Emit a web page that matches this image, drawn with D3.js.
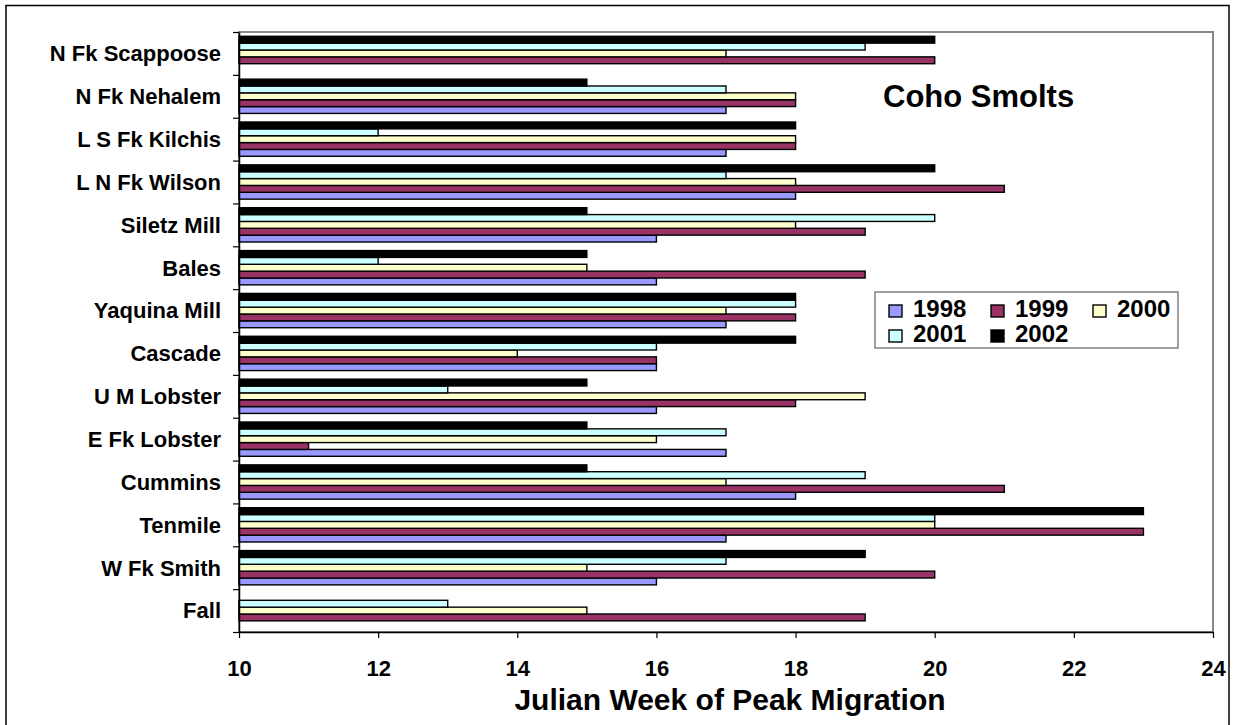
<!DOCTYPE html>
<html>
<head>
<meta charset="utf-8">
<script src="https://cdn.jsdelivr.net/npm/d3@7"></script>
<style>
  body { margin: 0; background: #fff; }
  svg { display: block; font-family: "Liberation Sans", Arial, sans-serif; }
</style>
</head>
<body>
<div id="chart"></div>
<script>
// streams, top to bottom
var streams = ["N Fk Scappoose", "N Fk Nehalem", "L S Fk Kilchis", "L N Fk Wilson", "Siletz Mill",
  "Bales", "Yaquina Mill", "Cascade", "U M Lobster", "E Fk Lobster", "Cummins", "Tenmile",
  "W Fk Smith", "Fall"];
var years = ["1998", "1999", "2000", "2001", "2002"];
var yearColors = ["#9999FF", "#993366", "#FFFFCC", "#CCFFFF", "#000000"];

// julian week of peak migration per year, same order as streams (null = no data)
var wk1998 = [null, 17, 17, 18, 16, 16, 17, 16, 16, 17, 18, 17, 16, null];
var wk1999 = [20, 18, 18, 21, 19, 19, 18, 16, 18, 11, 21, 23, 20, 19];
var wk2000 = [17, 18, 18, 18, 18, 15, 17, 14, 19, 16, 17, 20, 15, 15];
var wk2001 = [19, 17, 12, 17, 20, 12, 18, 16, 13, 17, 19, 20, 17, 13];
var wk2002 = [20, 15, 18, 20, 15, 15, 18, 18, 15, 15, 15, 23, 19, null];

var xTicks = [10, 12, 14, 16, 18, 20, 22, 24];

var W = 1236, H = 725;
var margin = {top: 32, right: 23, bottom: 93, left: 239};
var width = W - margin.left - margin.right,
    height = H - margin.top - margin.bottom;

var series = [wk1998, wk1999, wk2000, wk2001, wk2002];
var rows = streams.map(function(s, i) {
  return {stream: s, values: years.map(function(y, j) { return {year: y, value: series[j][i]}; })};
});

var svg = d3.select("#chart").append("svg")
  .attr("width", W)
  .attr("height", H);

svg.append("rect").attr("width", W).attr("height", H).attr("fill", "#fff");

// outer chart border (bottom runs off the picture)
svg.append("rect")
  .attr("x", 6).attr("y", 5.5)
  .attr("width", 1223).attr("height", 740)
  .attr("fill", "none").attr("stroke", "#000").attr("stroke-width", 1.5);

var g = svg.append("g")
  .attr("transform", "translate(" + margin.left + "," + margin.top + ")");

// plot area border
g.append("rect")
  .attr("width", width).attr("height", height)
  .attr("fill", "none").attr("stroke", "#888").attr("stroke-width", 2);

var x = d3.scaleLinear().domain([10, 24]).range([0, width]);

var y0 = d3.scaleBand()
  .domain(streams)
  .range([0, height])
  .paddingInner(0.2)
  .paddingOuter(0.1);

var y1 = d3.scaleBand()
  .domain(years.slice().reverse())
  .range([0, y0.bandwidth()]);

var color = d3.scaleOrdinal().domain(years).range(yearColors);

// bars
g.selectAll("g.group")
  .data(rows)
  .join("g")
  .attr("class", "group")
  .attr("transform", function(d) { return "translate(0," + y0(d.stream) + ")"; })
  .selectAll("rect")
  .data(function(d) { return d.values.filter(function(v) { return v.value != null; }); })
  .join("rect")
  .attr("x", x(10))
  .attr("y", function(d) { return y1(d.year); })
  .attr("width", function(d) { return x(d.value) - x(10); })
  .attr("height", y1.bandwidth())
  .attr("fill", function(d) { return color(d.year); })
  .attr("stroke", "#000")
  .attr("stroke-width", 1.4);

// x axis
var xAxis = g.append("g")
  .attr("transform", "translate(0," + height + ")")
  .call(d3.axisBottom(x).tickValues(xTicks).tickSize(6).tickPadding(22).tickSizeOuter(0));
xAxis.select(".domain").attr("stroke", "#000").attr("stroke-width", 1.5);
xAxis.selectAll(".tick line").attr("stroke", "#000").attr("stroke-width", 1.2);
xAxis.selectAll("text")
  .attr("fill", "#000")
  .style("font-size", "22px")
  .style("font-weight", "bold")
  .style("font-family", "'Liberation Sans', Arial, sans-serif");

// y axis: ticks between categories, labels at band centres
var yIdx = d3.scaleLinear().domain([0, streams.length]).range([0, height]);
var yTicks = g.append("g")
  .call(d3.axisLeft(yIdx).tickValues(d3.range(streams.length + 1)).tickSize(6).tickFormat("").tickSizeOuter(0));
yTicks.select(".domain").attr("stroke", "#000").attr("stroke-width", 1.5);
yTicks.selectAll(".tick line").attr("stroke", "#000").attr("stroke-width", 1.2);

var yLabels = g.append("g")
  .call(d3.axisLeft(y0).tickSize(0).tickPadding(18));
yLabels.select(".domain").remove();
yLabels.selectAll("text")
  .attr("fill", "#000")
  .attr("dy", "0.36em")
  .style("font-size", "22px")
  .style("font-weight", "bold")
  .style("font-family", "'Liberation Sans', Arial, sans-serif");

// axis title
svg.append("text")
  .attr("x", margin.left + width / 2 + 4)
  .attr("y", 710)
  .attr("text-anchor", "middle")
  .style("font-size", "30px")
  .style("font-weight", "bold")
  .text("Julian Week of Peak Migration");

// chart title
svg.append("text")
  .attr("x", 883)
  .attr("y", 107)
  .style("font-size", "31px")
  .style("font-weight", "bold")
  .text("Coho Smolts");

// legend
var legend = svg.append("g").attr("transform", "translate(875,292)");
legend.append("rect")
  .attr("width", 303).attr("height", 56)
  .attr("fill", "#fff").attr("stroke", "#808080").attr("stroke-width", 1.5);

var legX = [14, 116, 218];
var item = legend.selectAll("g.item")
  .data(years)
  .join("g")
  .attr("class", "item")
  .attr("transform", function(d, i) { return "translate(" + legX[i % 3] + "," + (Math.floor(i / 3) * 25) + ")"; });
item.append("rect")
  .attr("x", 0).attr("y", 13)
  .attr("width", 13).attr("height", 12)
  .attr("fill", function(d) { return color(d); })
  .attr("stroke", "#000").attr("stroke-width", 1.4);
item.append("text")
  .attr("x", 24).attr("y", 25)
  .style("font-size", "24px")
  .style("font-weight", "bold")
  .text(function(d) { return d; });
</script>
</body>
</html>
